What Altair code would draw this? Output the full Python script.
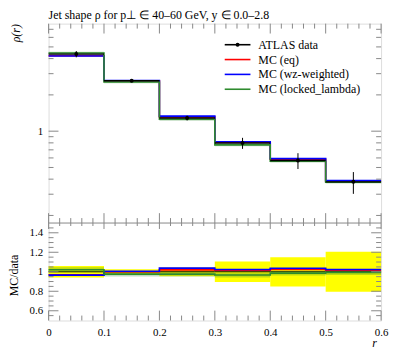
import altair as alt
import pandas as pd

# ---------------- data ----------------
bin_lo = [0.0, 0.1, 0.2, 0.3, 0.4, 0.5]
bin_hi = [0.1, 0.2, 0.3, 0.4, 0.5, 0.6]
bin_mid = [0.05, 0.15, 0.25, 0.35, 0.45, 0.55]
data_rho = [4.36, 2.62, 1.285, 0.797, 0.571, 0.38]
data_relerr = [0.06, 0.025, 0.045, 0.105, 0.15, 0.205]
mc_eq = [4.23, 2.62, 1.31, 0.809, 0.585, 0.386]
mc_wz = [4.21, 2.633, 1.333, 0.816, 0.592, 0.389]
mc_locked = [4.45, 2.557, 1.254, 0.770, 0.563, 0.377]
mc_locked_relerr = [0.025, 0.025, 0.025, 0.025, 0.025, 0.025]

series_names = ["ATLAS data", "MC (eq)", "MC (wz-weighted)", "MC (locked_lambda)"]
series_colors = ["#000000", "#ff0000", "#0000ff", "#2e8b2e"]

x_major = [0.0, 0.1, 0.2, 0.3, 0.4, 0.5, 0.6]
x_minor = [0.02, 0.04, 0.06, 0.08, 0.12, 0.14, 0.16, 0.18, 0.22, 0.24, 0.26, 0.28,
           0.32, 0.34, 0.36, 0.38, 0.42, 0.44, 0.46, 0.48, 0.52, 0.54, 0.56, 0.58]
top_y_major = [1.0]
top_y_minor = [0.2, 0.3, 0.4, 0.5, 0.6, 0.7, 0.8, 0.9, 2.0, 3.0, 4.0, 5.0, 6.0, 7.0]
rat_y_major = [0.6, 0.8, 1.0, 1.2, 1.4]
rat_y_minor = [0.55, 0.65, 0.7, 0.75, 0.85, 0.9, 0.95, 1.05, 1.1, 1.15, 1.25, 1.3, 1.35, 1.45]

title_text = "Jet shape ρ for p⊥ ∈ 40–60 GeV, y ∈ 0.0–2.8"

# ---------------- layout constants ----------------
W = 336
H_TOP = 201.5
H_ALL = 300
FONT = "Liberation Serif"
FRAME = "#888888"
MAJ, MIN = 10, 5

x_scale = alt.Scale(domain=[0, 0.6], nice=False, zero=False)
top_scale = alt.Scale(type="log", domain=[0.173, 7.8], range=[H_TOP, 0], nice=False)
rat_scale = alt.Scale(domain=[0.5, 1.5], range=[H_ALL, H_TOP], nice=False, zero=False)

x_axis = alt.Axis(orient="bottom", values=x_major, format="~g", ticks=False, domain=False, grid=False,
                  labelPadding=6, labelFlush=False, labelFontSize=11, labelFont=FONT,
                  title="r", titleX=329, titleY=22, titleAlign="center", titleBaseline="middle",
                  titleFont=FONT, titleFontSize=12, titleFontStyle="italic", titleFontWeight="normal")
top_axis = alt.Axis(orient="left", values=top_y_major, format="~g", ticks=False, domain=False, grid=False,
                    labelPadding=6, labelFontSize=11, labelFont=FONT,
                    title="ρ(r)", titleX=-33, titleY=0, titleAngle=270, titleAlign="right",
                    titleBaseline="middle", titleFont=FONT, titleFontSize=12,
                    titleFontStyle="italic", titleFontWeight="normal")
rat_axis = alt.Axis(orient="left", values=rat_y_major, format="~g", ticks=False, domain=False, grid=False,
                    labelPadding=6, labelFontSize=11, labelFont=FONT,
                    title="MC/data", titleX=-35, titleY=254, titleAngle=270, titleAlign="center",
                    titleBaseline="middle", titleFont=FONT, titleFontSize=12, titleFontWeight="normal")


def X(field):
    return alt.X(field, type="quantitative", scale=x_scale, axis=x_axis)


def YT(field):
    return alt.Y(field, type="quantitative", scale=top_scale, axis=top_axis)


def YR(field):
    return alt.Y(field, type="quantitative", scale=rat_scale, axis=rat_axis)


def step_df(vals):
    return pd.DataFrame({"x": bin_lo + [bin_hi[-1]], "y": list(vals) + [vals[-1]]})


def band_df(vals, rel):
    lo = [v * (1 - e) for v, e in zip(vals, rel)]
    hi = [v * (1 + e) for v, e in zip(vals, rel)]
    return pd.DataFrame({"x": bin_lo + [bin_hi[-1]], "lo": lo + [lo[-1]], "hi": hi + [hi[-1]]})


data_df = pd.DataFrame({
    "lo": bin_lo, "hi": bin_hi, "mid": bin_mid, "v": data_rho,
    "elo": [v * (1 - e) for v, e in zip(data_rho, data_relerr)],
    "ehi": [v * (1 + e) for v, e in zip(data_rho, data_relerr)],
})
mc_series = [mc_eq, mc_wz, mc_locked]

# ---------------- top panel ----------------
top_layers = []
top_layers.append(
    alt.Chart(band_df(mc_locked, mc_locked_relerr)).mark_area(
        interpolate="step-after", color=series_colors[3], opacity=0.3
    ).encode(x=X("x"), y=YT("lo"), y2="hi")
)
for vals, col in zip(mc_series, series_colors[1:]):
    top_layers.append(
        alt.Chart(step_df(vals)).mark_line(interpolate="step-after", color=col, strokeWidth=1.6)
        .encode(x=X("x"), y=YT("y"))
    )
top_layers.append(
    alt.Chart(data_df).mark_rule(color="black", strokeWidth=1.4).encode(x=X("lo"), x2="hi", y=YT("v"))
)
top_layers.append(
    alt.Chart(data_df).mark_rule(color="black", strokeWidth=1).encode(x=X("mid"), y=YT("elo"), y2="ehi")
)
top_layers.append(
    alt.Chart(data_df).mark_point(filled=True, shape="circle", size=16, color="black", opacity=1)
    .encode(x=X("mid"), y=YT("v"))
)
# inward ticks on the y edges of the top panel
for vals, ln in ((top_y_major, MAJ), (top_y_minor, MIN)):
    tdf = pd.DataFrame({"t": vals})
    top_layers.append(alt.Chart(tdf).mark_rule(color=FRAME).encode(
        y=YT("t"), x=alt.value(0), x2=alt.value(ln)))
    top_layers.append(alt.Chart(tdf).mark_rule(color=FRAME).encode(
        y=YT("t"), x=alt.value(W), x2=alt.value(W - ln)))
# inward x ticks (top edge, bottom edge of top panel, both edges of ratio panel)
for vals, ln in ((x_major, MAJ), (x_minor, MIN)):
    tdf = pd.DataFrame({"t": vals})
    for a, b in ((0, ln), (H_TOP, H_TOP - ln), (H_TOP, H_TOP + ln * 0.6), (H_ALL, H_ALL - ln)):
        top_layers.append(alt.Chart(tdf).mark_rule(color=FRAME).encode(
            x=X("t"), y=alt.value(a), y2=alt.value(b)))
# divider between panels
top_layers.append(alt.Chart(pd.DataFrame({"t": [0]})).mark_rule(color=FRAME).encode(
    x=alt.value(0), x2=alt.value(W), y=alt.value(H_TOP)))
# title
top_layers.append(alt.Chart(pd.DataFrame({"t": [title_text]})).mark_text(
    align="left", baseline="middle", font=FONT, fontSize=12, color="black"
).encode(text="t:N", x=alt.value(0), y=alt.value(-9)))
# legend
leg_y = [21.3, 36.3, 51.3, 66.3]
for name, col, yy in zip(series_names, series_colors, leg_y):
    one = pd.DataFrame({"t": [name]})
    top_layers.append(alt.Chart(one).mark_rule(color=col, strokeWidth=1.6).encode(
        x=alt.value(178), x2=alt.value(204), y=alt.value(yy)))
    top_layers.append(alt.Chart(one).mark_text(
        align="left", baseline="middle", font=FONT, fontSize=12, color="black"
    ).encode(text="t:N", x=alt.value(212), y=alt.value(yy)))
top_layers.append(alt.Chart(pd.DataFrame({"t": [series_names[0]]})).mark_point(
    filled=True, shape="circle", size=16, color="black", opacity=1
).encode(x=alt.value(191), y=alt.value(leg_y[0])))

top = alt.layer(*top_layers)

# ---------------- ratio panel ----------------
rat_layers = []
band = pd.DataFrame({
    "lo": bin_lo, "hi": bin_hi,
    "rlo": [1 - e for e in data_relerr], "rhi": [1 + e for e in data_relerr],
})
rat_layers.append(alt.Chart(band).mark_rect(color="#ffff00").encode(
    x=X("lo"), x2="hi", y=YR("rlo"), y2="rhi"))
rat_layers.append(alt.Chart(step_df([d / d for d in data_rho])).mark_line(
    interpolate="step-after", color="black", strokeWidth=1).encode(x=X("x"), y=YR("y")))
lk_ratio = [m / d for m, d in zip(mc_locked, data_rho)]
rat_layers.append(alt.Chart(band_df(lk_ratio, mc_locked_relerr)).mark_area(
    interpolate="step-after", color=series_colors[3], opacity=0.3
).encode(x=X("x"), y=YR("lo"), y2="hi"))
for vals, col in zip(mc_series, series_colors[1:]):
    r = [m / d for m, d in zip(vals, data_rho)]
    rat_layers.append(alt.Chart(step_df(r)).mark_line(
        interpolate="step-after", color=col, strokeWidth=1.6).encode(x=X("x"), y=YR("y")))
for vals, ln in ((rat_y_major, MAJ), (rat_y_minor, MIN)):
    tdf = pd.DataFrame({"t": vals})
    rat_layers.append(alt.Chart(tdf).mark_rule(color=FRAME).encode(
        y=YR("t"), x=alt.value(0), x2=alt.value(ln)))
    rat_layers.append(alt.Chart(tdf).mark_rule(color=FRAME).encode(
        y=YR("t"), x=alt.value(W), x2=alt.value(W - ln)))

ratio = alt.layer(*rat_layers)

chart = alt.layer(top, ratio).resolve_scale(y="independent").properties(
    width=W, height=H_ALL,
    padding={"left": 41, "top": 14, "right": 8, "bottom": 28},
    autosize=alt.AutoSizeParams(type="none"),
).configure_view(stroke=FRAME, strokeWidth=1).configure(background="white")

chart.save("out.html", embed_options={"renderer": "svg", "actions": False})
